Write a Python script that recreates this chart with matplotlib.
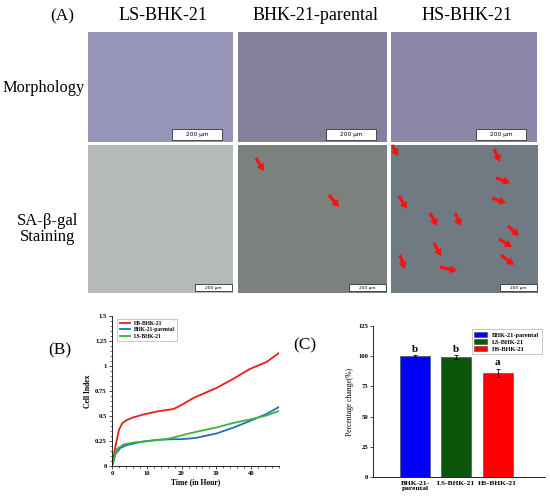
import numpy as np
import matplotlib
matplotlib.use("Agg")
import matplotlib.pyplot as plt
from matplotlib.patches import Rectangle
from matplotlib.ticker import MultipleLocator

plt.rcParams.update({
    "font.family": ["Liberation Serif", "DejaVu Serif"],
    "axes.linewidth": 0.6,
})

W, H = 550, 497

# ---- panel A: cell lines, rows, tile tints (photos replaced by flat tiles)
col_titles = ["LS-BHK-21", "BHK-21-parental", "HS-BHK-21"]
row_titles = ["Morphology", "SA-\u03b2-gal\nStaining"]
tile_colors = [["#9794b9", "#85819d", "#8b87a8"],
               ["#b5b9b7", "#7c817e", "#6f7a82"]]
scale_text = "200 \u03bcm"
# red arrows marking SA-beta-gal positive cells (tail x, tail y, head x, head y)
arrows_mid = [(256, 158, 264, 171), (329, 195, 339, 207)]
arrows_right = [(392, 145, 398, 156), (494, 149, 500, 162), (496, 178, 510, 183),
                (492, 198, 506, 203), (399, 196, 407, 209), (430, 213, 437, 226),
                (455, 213, 461, 226), (508, 226, 519, 236), (499, 239, 512, 247),
                (434, 243, 441, 256), (501, 255, 514, 265), (400, 255, 405, 269),
                (440, 267, 457, 271)]

# ---- panel B: cell index (xCELLigence) over time
t_red = [0, 1, 2, 2.4, 3, 4.3, 6, 9, 12.9, 17.7, 20, 23.4, 26, 30, 34.8, 39.6, 44.4, 48]
ci_red = [0, 0.2, 0.36, 0.39, 0.43, 0.46, 0.485, 0.515, 0.545, 0.57, 0.61, 0.68, 0.72,
          0.78, 0.87, 0.97, 1.04, 1.13]
t_blue = [0, 1, 2.4, 4.3, 9, 13, 17.7, 20, 24, 30, 35, 39.6, 44.4, 48]
ci_blue = [0, 0.12, 0.18, 0.21, 0.245, 0.262, 0.268, 0.268, 0.28, 0.325, 0.385, 0.45,
           0.52, 0.59]
t_green = [0, 1.4, 3.3, 6.2, 11, 15.7, 17.7, 21.5, 25.3, 30, 34.8, 39.6, 44.4, 48]
ci_green = [0, 0.17, 0.215, 0.235, 0.25, 0.27, 0.285, 0.32, 0.35, 0.385, 0.43, 0.465,
            0.505, 0.55]

# ---- panel C: percentage change
groups = ["BHK-21-\nparental", "LS-BHK-21", "HS-BHK-21"]
legend_c = ["BHK-21-parental", "LS-BHK-21", "HS-BHK-21"]
pct = [100, 99, 86.2]
pct_err = [0.6, 1.6, 3.3]
letters = ["b", "b", "a"]
bar_colors = ["#0000ff", "#0a560a", "#ff0000"]


def px_rect(x0, y0, x1, y1):
    return [x0 / W, 1 - y1 / H, (x1 - x0) / W, (y1 - y0) / H]


fig = plt.figure(figsize=(W / 100, H / 100), dpi=100)
fig.patch.set_facecolor("white")

# overlay in pixel coordinates for panel A
ov = fig.add_axes([0, 0, 1, 1])
ov.set_xlim(0, W)
ov.set_ylim(H, 0)
ov.axis("off")

col_x = [(88, 233), (238, 387), (391, 537)]
row_y = [(32, 142), (145, 293)]
ov.text(62, 16, "(A)", fontsize=12.5, ha="center", va="center")
for (x0, x1), t in zip(col_x, col_titles):
    ov.text((x0 + x1) / 2 + 3, 16, t, fontsize=13, ha="center", va="center")
ov.text(44, 88, row_titles[0], fontsize=11.8, ha="center", va="center")
ov.text(48, 229, row_titles[1], fontsize=12, ha="center", va="center",
        linespacing=1.0)

for r, (y0, y1) in enumerate(row_y):
    for c, (x0, x1) in enumerate(col_x):
        if r == 1 and c == 2:
            x1 = 538
        ov.add_patch(Rectangle((x0, y0), x1 - x0, y1 - y0,
                               facecolor=tile_colors[r][c], edgecolor="none"))
        if r == 0:
            bw, bh, fs = 50, 11, 4.2
            bx, by = x1 - 11 - bw, y1 - 13
        else:
            bw, bh, fs = 37, 7, 3.2
            bx, by = x1 - 1 - bw, y1 - 9
        ov.add_patch(Rectangle((bx, by), bw, bh, facecolor="white",
                               edgecolor="#333333", linewidth=0.6))
        ov.text(bx + bw / 2, by + bh / 2, scale_text, fontsize=fs,
                family="DejaVu Sans", ha="center", va="center")

for xa, ya, xb, yb in arrows_mid + arrows_right:
    ov.arrow(xa, ya, xb - xa, yb - ya, width=3.2, head_width=8.5, head_length=7,
             length_includes_head=True, color="#ff1010", linewidth=0)

# panel B
ov.text(60, 350, "(B)", fontsize=12.5, ha="center", va="center")
axb = fig.add_axes(px_rect(112, 316, 279, 466))
axb.plot(t_red, ci_red, color="#ee1c1c", lw=1.3, label="HS-BHK-21")
axb.plot(t_blue, ci_blue, color="#1f6fc0", lw=1.3, label="BHK-21-parental")
axb.plot(t_green, ci_green, color="#3cb43c", lw=1.3, label="LS-BHK-21")
axb.set_xlim(0, 48)
axb.set_ylim(0, 1.5)
axb.set_yticks([0, 0.25, 0.5, 0.75, 1, 1.25, 1.5])
axb.set_yticklabels(["0", "0.25", "0.5", "0.75", "1", "1.25", "1.5"])
axb.set_xticks([0, 10, 20, 30, 40])
axb.xaxis.set_minor_locator(MultipleLocator(2))
axb.yaxis.set_minor_locator(MultipleLocator(0.05))
axb.tick_params(which="major", labelsize=4.8, length=2.2, width=0.5, pad=1.5)
axb.tick_params(which="minor", length=1.2, width=0.4)
for lab in axb.get_xticklabels() + axb.get_yticklabels():
    lab.set_fontweight("bold")
axb.spines["top"].set_visible(False)
axb.spines["right"].set_visible(False)
axb.set_xlabel("Time (in Hour)", fontsize=5.5, fontweight="bold", labelpad=1.5)
axb.set_ylabel("Cell Index", fontsize=5.5, fontweight="bold", labelpad=2)
legb = axb.legend(loc="upper left", bbox_to_anchor=(0.015, 1.0),
                  frameon=True, fancybox=False, edgecolor="#888888", handlelength=1.8,
                  borderpad=0.4, labelspacing=0.25, prop={"size": 4.0, "weight": "bold"})
legb.get_frame().set_linewidth(0.4)

# panel C
ov.text(305, 345, "(C)", fontsize=12.5, ha="center", va="center")
axc = fig.add_axes(px_rect(373, 326, 545, 477))
pos = np.arange(len(pct))
axc.bar(pos, pct, width=0.73, color=bar_colors, edgecolor="#444444", linewidth=0.4,
        yerr=pct_err, capsize=1.6, error_kw=dict(elinewidth=0.6, capthick=0.6),
        label=legend_c)
for p, v, e, s in zip(pos, pct, pct_err, letters):
    axc.text(p, v + e + 1.5, s, ha="center", va="bottom", fontsize=8,
             fontweight="bold")
axc.set_xlim(-1.02, 3.15)
axc.set_ylim(0, 125)
axc.set_yticks([0, 25, 50, 75, 100, 125])
axc.set_xticks(pos)
axc.set_xticklabels(groups, fontsize=5.4, fontweight="bold", linespacing=1.0,
                    va="top")
axc.tick_params(axis="y", labelsize=4.8, length=2, width=0.5, pad=1.5)
axc.tick_params(axis="x", length=0, pad=3)
for lab in axc.get_yticklabels():
    lab.set_fontweight("bold")
axc.spines["top"].set_visible(False)
axc.spines["right"].set_visible(False)
axc.set_ylabel("Percentage change(%)", fontsize=5.5, labelpad=3)
leg = axc.legend(loc="upper right", bbox_to_anchor=(1.0, 1.0),
                 frameon=True, fancybox=False, edgecolor="#888888", handlelength=2.0,
                 handleheight=1.0, borderpad=0.4, labelspacing=0.15,
                 prop={"size": 4.6, "weight": "bold"})
leg.get_frame().set_linewidth(0.4)

fig.savefig("out.png", dpi=100, facecolor="white")
